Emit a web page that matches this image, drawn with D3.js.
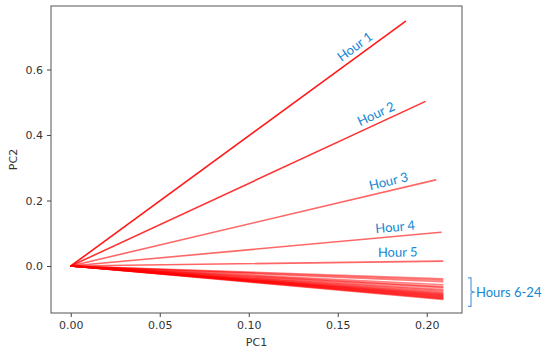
<!DOCTYPE html>
<html>
<head>
<meta charset="utf-8">
<script src="https://cdn.jsdelivr.net/npm/d3@7"></script>
<style>
  body { margin: 0; background: #fff; }
  .tick text { font-family: "DejaVu Sans", sans-serif; font-size: 11px; fill: #333; }
  .note { font-family: Lato, "Open Sans", sans-serif; font-size: 13px; fill: #1287d3; }
</style>
</head>
<body>
<div id="canvas"></div>
<script>
// hour labels and the PC loadings (line end points, origin is 0,0)
var hours = ["Hour 1", "Hour 2", "Hour 3", "Hour 4", "Hour 5"];
var pc1_top = [0.188, 0.199, 0.205, 0.208, 0.209];
var pc2_top = [0.747, 0.502, 0.263, 0.103, 0.015];

// hours 6..24, all bunched at the bottom right
var pc1_rest = [0.209, 0.209, 0.209, 0.209, 0.209, 0.209, 0.209, 0.209, 0.209, 0.209,
                0.209, 0.209, 0.209, 0.209, 0.209, 0.209, 0.209, 0.209, 0.209];
var pc2_rest = [-0.039, -0.043, -0.048, -0.057, -0.063, -0.066, -0.072, -0.076, -0.080, -0.083,
                -0.086, -0.088, -0.090, -0.092, -0.094, -0.096, -0.098, -0.100, -0.102];

var xTicks = [0.00, 0.05, 0.10, 0.15, 0.20];
var yTicks = [0.0, 0.2, 0.4, 0.6];

var width = 550, height = 356;
var margin = {top: 6, right: 88, bottom: 43, left: 51};
var w = width - margin.left - margin.right,
    h = height - margin.top - margin.bottom;

var x = d3.scaleLinear().domain([-0.0111, 0.2198]).range([0, w]);
var y = d3.scaleLinear().domain([-0.1435, 0.794]).range([h, 0]);

var svg = d3.select("#canvas").append("svg")
    .attr("width", width)
    .attr("height", height)
  .append("g")
    .attr("transform", "translate(" + margin.left + "," + margin.top + ")");

// lines, the rest first so hour 1..5 sit on top
var lineData = [];
for (var i = 0; i < pc1_rest.length; i++) lineData.push({x: pc1_rest[i], y: pc2_rest[i], k: i + 5});
for (var j = 0; j < hours.length; j++) lineData.push({x: pc1_top[j], y: pc2_top[j], k: j});

function lineOpacity(k) {
  if (k == 0) return 0.9;
  if (k == 1) return 0.8;
  if (k < 5) return 0.6;
  return 0.5;
}

svg.selectAll(".load")
  .data(lineData)
  .enter().append("line")
    .attr("class", "load")
    .attr("x1", x(0)).attr("y1", y(0))
    .attr("x2", function(d) { return x(d.x); })
    .attr("y2", function(d) { return y(d.y); })
    .style("stroke", "#ff0000")
    .style("stroke-opacity", function(d) { return lineOpacity(d.k); })
    .style("stroke-width", 1.6)
    .style("stroke-linecap", "round");

// axes
var xAxis = svg.append("g")
    .attr("transform", "translate(0," + h + ")")
    .call(d3.axisBottom(x).tickValues(xTicks).tickFormat(d3.format(".2f")).tickSizeOuter(0).tickSize(4).tickPadding(4));
var yAxis = svg.append("g")
    .call(d3.axisLeft(y).tickValues(yTicks).tickFormat(d3.format(".1f")).tickSizeOuter(0).tickSize(4).tickPadding(4));
xAxis.select(".domain").remove();
yAxis.select(".domain").remove();
svg.selectAll(".tick line").style("stroke", "#444");

// frame
svg.append("rect")
    .attr("width", w).attr("height", h)
    .style("fill", "none")
    .style("stroke", "#555")
    .style("stroke-width", 1);

svg.append("text")
    .attr("x", w / 2).attr("y", h + 33)
    .attr("text-anchor", "middle")
    .style("font-family", "DejaVu Sans, sans-serif").style("font-size", "11px").style("fill", "#333")
    .text("PC1");
svg.append("text")
    .attr("transform", "translate(" + (-34) + "," + (h / 2) + ") rotate(-90)")
    .attr("text-anchor", "middle")
    .style("font-family", "DejaVu Sans, sans-serif").style("font-size", "11px").style("fill", "#333")
    .text("PC2");

// hour labels, sitting on their line about 45px back from its end
hours.forEach(function(name, i) {
  var ex = x(pc1_top[i]), ey = y(pc2_top[i]);
  var px = ex - 45;
  var t = (px - x(0)) / (ex - x(0));
  var py = y(0) + (ey - y(0)) * t;
  var ang = Math.atan2(ey - y(0), ex - x(0)) * 180 / Math.PI;
  svg.append("text")
    .attr("class", "note")
    .attr("text-anchor", "middle")
    .attr("transform", "translate(" + px + "," + py + ") rotate(" + ang + ")")
    .attr("dy", -5)
    .text(name);
});

// bracket for hours 6-24
var bTop = y(d3.max(pc2_rest)) - 1, bBot = y(d3.min(pc2_rest)) + 7;
var bx = w + 6;
svg.append("path")
    .attr("d", "M" + (bx) + "," + bTop + "h3V" + ((bTop + bBot) / 2 - 1) + "l3,1l-3,1V" + bBot + "h-3")
    .style("fill", "none")
    .style("stroke", "#5b9bd5")
    .style("stroke-width", 1.2);
svg.append("text")
    .attr("class", "note")
    .attr("x", bx + 8).attr("y", (bTop + bBot) / 2 + 5)
    .text("Hours 6-24");
</script>
</body>
</html>
